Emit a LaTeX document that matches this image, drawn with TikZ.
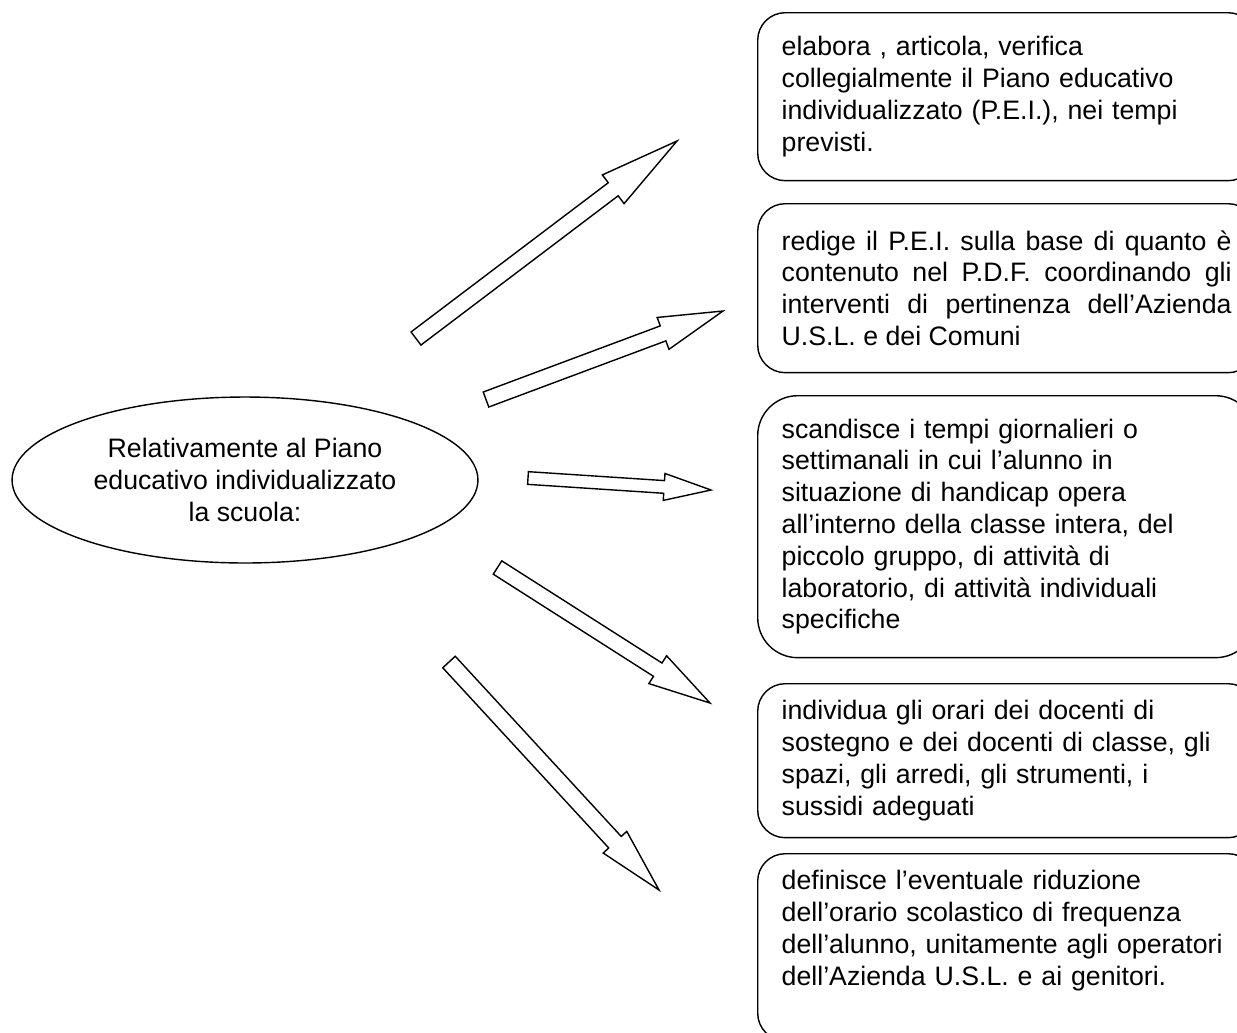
\documentclass[tikz,border=0pt]{standalone}
\usepackage{fontspec}
\setmainfont{Liberation Sans}
\usetikzlibrary{calc,shapes.geometric}

\newcommand{\txt}{\fontsize{15.2}{18.1}\selectfont\hyphenpenalty=10000}
% hollow block arrow: tail, tip, half shaft, half head, head length
\newcommand{\blockarrow}[5]{%
  \path ($(#2)!#5!(#1)$) coordinate (hb);
  \draw[blk] ($(#1)!#3!90:(#2)$) -- ($(hb)!#3!90:(#2)$) -- ($(hb)!#4!90:(#2)$)
    -- (#2) -- ($(hb)!#4!-90:(#2)$) -- ($(hb)!#3!-90:(#2)$)
    -- ($(#1)!#3!-90:(#2)$) -- cycle;}

\begin{document}
\begin{tikzpicture}[x=0.02cm,y=-0.02cm,
  topic/.style={ellipse,draw,line width=0.8pt,minimum width=9.32cm,
                minimum height=3.32cm,inner sep=0pt,align=center,font=\txt},
  task/.style={rectangle,draw,line width=0.8pt,rounded corners=0.55cm,
               anchor=north west,text width=9.0cm,inner xsep=0.48cm,
               inner ysep=0pt,align=left,font=\txt},
  blk/.style={draw,line width=0.8pt,line join=miter,fill=white}]

  \useasboundingbox (0,0) rectangle (1237,1032);
  \clip (0,0) rectangle (1237,1032);

  \node[topic] (scuola) at (245,480)
    {Relativamente al Piano\\educativo individualizzato\\la scuola:};

  \node[task,minimum height=3.36cm] (pei) at (757,12)
    {elabora , articola, verifica\\collegialmente il Piano educativo\\individualizzato (P.E.I.), nei tempi\\previsti.};
  \node[task,minimum height=3.38cm,align=justify] (redige) at (757,203)
    {redige il P.E.I. sulla base di quanto è\linebreak contenuto nel P.D.F. coordinando gli\linebreak interventi di pertinenza dell’Azienda\linebreak U.S.L. e dei Comuni};
  \node[task,minimum height=5.24cm,rounded corners=0.8cm] (tempi) at (757,395)
    {scandisce i tempi giornalieri o\\settimanali in cui l’alunno in\\situazione di handicap opera\\all’interno della classe intera, del\\piccolo gruppo, di attività di\\laboratorio, di attività individuali\\specifiche};
  \node[task,minimum height=3.08cm] (orari) at (757,683)
    {individua gli orari dei docenti di\\sostegno e dei docenti di classe, gli\\spazi, gli arredi, gli strumenti, i\\sussidi adeguati};
  \node[task,text height=0.72cm,text depth=3.02cm] (riduz) at (757,853)
    {definisce l’eventuale riduzione\\dell’orario scolastico di frequenza\\dell’alunno, unitamente agli operatori\\dell’Azienda U.S.L. e ai genitori.};

  % arrow ends
  \coordinate (a1t) at (416,338.5); \coordinate (a1h) at (677,141);
  \coordinate (a2t) at (486,399.5); \coordinate (a2h) at (723,311);
  \coordinate (a3t) at (528,478);   \coordinate (a3h) at (711,490);
  \coordinate (a4t) at (497.5,567.5); \coordinate (a4h) at (710,703);
  \coordinate (a5t) at (449,662);   \coordinate (a5h) at (659,890);

  \blockarrow{a1t}{a1h}{0.164cm}{0.36cm}{1.6cm}
  \blockarrow{a2t}{a2h}{0.16cm}{0.34cm}{1.28cm}
  \blockarrow{a3t}{a3h}{0.127cm}{0.27cm}{0.94cm}
  \blockarrow{a4t}{a4h}{0.158cm}{0.33cm}{1.24cm}
  \blockarrow{a5t}{a5h}{0.17cm}{0.32cm}{1.3cm}
\end{tikzpicture}
\end{document}
